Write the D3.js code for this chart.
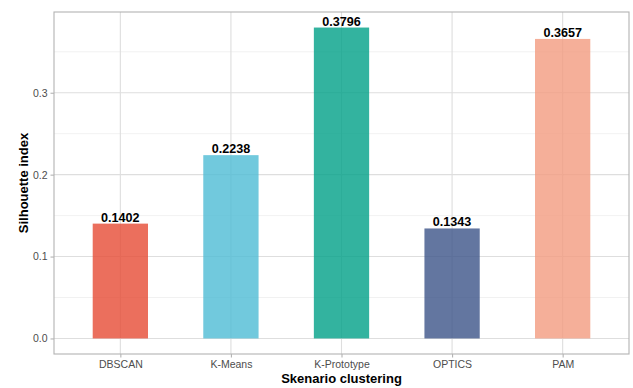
<!DOCTYPE html>
<html>
<head>
<meta charset="utf-8">
<script src="https://cdn.jsdelivr.net/npm/d3@7"></script>
<style>
  html, body { margin: 0; padding: 0; background: #fff; }
  svg { display: block; font-family: "Liberation Sans", Arial, sans-serif; }
</style>
</head>
<body>
<svg id="chart" width="633" height="388"></svg>
<script>
// Silhouette index per clustering scenario
const categories = ["DBSCAN", "K-Means", "K-Prototype", "OPTICS", "PAM"];
const silhouette = [0.1402, 0.2238, 0.3796, 0.1343, 0.3657];
const barColors = ["#E64B35", "#4DBBD5", "#00A087", "#3C5488", "#F39B7F"];
const yTicks = [0.0, 0.1, 0.2, 0.3];
const yMinor = [0.05, 0.15, 0.25, 0.35];

const svg = d3.select("#chart");
const panel = { left: 54, right: 629, top: 12, bottom: 354 };

// Continuous y with 5% expansion on both sides
const yMax = d3.max(silhouette);
const pad = yMax * 0.05;
const y = d3.scaleLinear().domain([-pad, yMax + pad]).range([panel.bottom, panel.top]);

// Discrete x: 0.6 unit padding on each side of the categories
const xIdx = d3.scaleLinear().domain([0.4, categories.length + 0.6]).range([panel.left, panel.right]);
const x = d => xIdx(categories.indexOf(d) + 1);
const barW = xIdx(1.5) - xIdx(1);

const g = svg.append("g");

// Minor grid
g.selectAll("line.minor").data(yMinor).join("line")
  .attr("x1", panel.left).attr("x2", panel.right)
  .attr("y1", d => y(d)).attr("y2", d => y(d))
  .attr("stroke", "#ededed").attr("stroke-width", 0.8);

// Major grid
g.selectAll("line.majory").data(yTicks).join("line")
  .attr("x1", panel.left).attr("x2", panel.right)
  .attr("y1", d => y(d)).attr("y2", d => y(d))
  .attr("stroke", "#dedede").attr("stroke-width", 1.1);
g.selectAll("line.majorx").data(categories).join("line")
  .attr("x1", d => x(d)).attr("x2", d => x(d))
  .attr("y1", panel.top).attr("y2", panel.bottom)
  .attr("stroke", "#dedede").attr("stroke-width", 1.1);

// Bars
g.selectAll("rect.bar").data(categories).join("rect")
  .attr("x", d => x(d) - barW / 2)
  .attr("width", barW)
  .attr("y", (d, i) => y(silhouette[i]))
  .attr("height", (d, i) => y(0) - y(silhouette[i]))
  .attr("fill", (d, i) => barColors[i])
  .attr("fill-opacity", 0.8);

// Value labels
g.selectAll("text.val").data(categories).join("text")
  .attr("x", d => x(d))
  .attr("y", (d, i) => y(silhouette[i]) - 2)
  .attr("text-anchor", "middle")
  .attr("font-size", "12.6px")
  .attr("font-weight", "bold")
  .attr("fill", "#000")
  .text((d, i) => silhouette[i].toFixed(4));

// Panel border
svg.append("rect")
  .attr("x", panel.left).attr("y", panel.top)
  .attr("width", panel.right - panel.left).attr("height", panel.bottom - panel.top)
  .attr("fill", "none").attr("stroke", "#b3b3b3").attr("stroke-width", 1.1);

// Y axis
const yAxis = d3.axisLeft(y).tickValues(yTicks).tickFormat(d3.format(".1f")).tickSize(3.5).tickPadding(3);
const ya = svg.append("g").attr("transform", `translate(${panel.left},0)`).call(yAxis);
ya.select(".domain").remove();
ya.selectAll(".tick line").attr("stroke", "#b3b3b3").attr("stroke-width", 1.1);
ya.selectAll(".tick text").attr("fill", "#4d4d4d").attr("font-size", "10.5px")
  .attr("font-family", "Liberation Sans, Arial, sans-serif");

// X axis
const xBand = d3.scalePoint().domain(categories).range([x(categories[0]), x(categories[categories.length - 1])]);
const xAxis = d3.axisBottom(xBand).tickSize(3.5).tickPadding(3);
const xa = svg.append("g").attr("transform", `translate(0,${panel.bottom})`).call(xAxis);
xa.select(".domain").remove();
xa.selectAll(".tick line").attr("stroke", "#b3b3b3").attr("stroke-width", 1.1);
xa.selectAll(".tick text").attr("fill", "#4d4d4d").attr("font-size", "10.5px")
  .attr("font-family", "Liberation Sans, Arial, sans-serif");

// Axis titles
svg.append("text")
  .attr("x", (panel.left + panel.right) / 2).attr("y", 383)
  .attr("text-anchor", "middle").attr("font-size", "13px").attr("font-weight", "bold")
  .text("Skenario clustering");
svg.append("text")
  .attr("transform", `translate(27.5,${(panel.top + panel.bottom) / 2}) rotate(-90)`)
  .attr("text-anchor", "middle").attr("font-size", "13px").attr("font-weight", "bold")
  .text("Silhouette index");
</script>
</body>
</html>
